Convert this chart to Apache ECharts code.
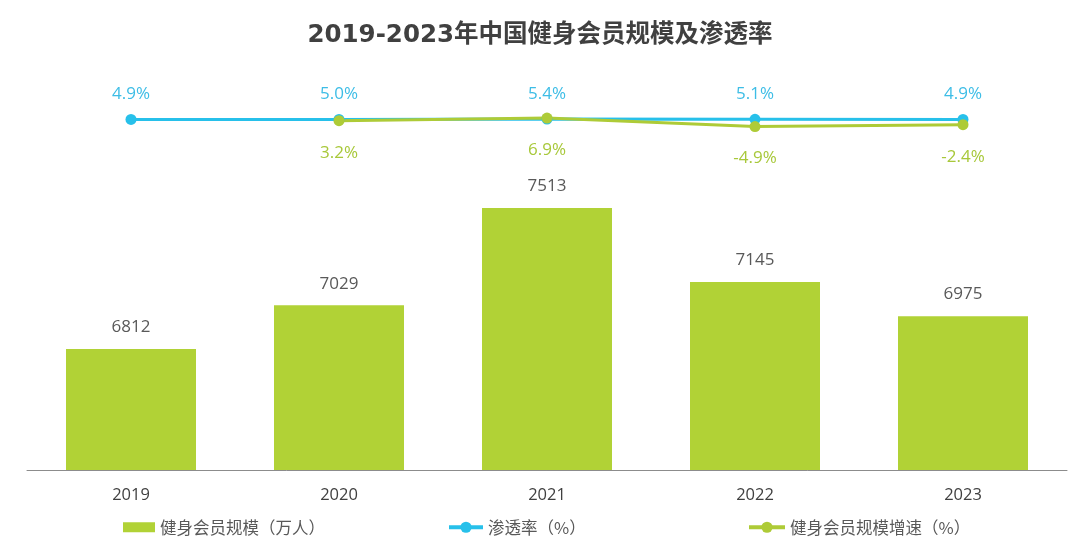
<!DOCTYPE html>
<html>
<head>
<meta charset="utf-8">
<script src="https://cdn.jsdelivr.net/npm/echarts@6/dist/echarts.min.js"></script>
<style>
html, body { margin: 0; padding: 0; background: #fff; }
#main { width: 1080px; height: 551px; }
</style>
</head>
<body>
<div id="main"></div>
<script>
var years = ['2019', '2020', '2021', '2022', '2023'];
var members = [6812, 7029, 7513, 7145, 6975];      // 健身会员规模（万人）
var penetration = [4.9, 5.0, 5.4, 5.1, 4.9];       // 渗透率（%）
var growth = [null, 3.2, 6.9, -4.9, -2.4];         // 健身会员规模增速（%）

var barName = '健身会员规模（万人）';
var blueName = '渗透率（%）';
var greenName = '健身会员规模增速（%）';

var font = '"Noto Sans CJK SC", "Open Sans", sans-serif';
var numFont = '"Open Sans", "Noto Sans CJK SC", sans-serif';

var myChart = echarts.init(document.getElementById('main'));

var legendText = { color: '#595959', fontSize: 16.5, fontFamily: font };

var option = {
    backgroundColor: '#fff',
    animation: false,
    title: {
        text: '2019-2023年中国健身会员规模及渗透率',
        left: 'center',
        top: 18,
        textStyle: { color: '#404040', fontSize: 24.5, fontWeight: 'bold', fontFamily: '"DejaVu Sans", "Noto Sans CJK SC", sans-serif' }
    },
    legend: [
        {
            left: 123, top: 519, padding: 0, itemWidth: 32, itemHeight: 10, itemGap: 4,
            data: [{ name: barName, icon: 'rect' }],
            textStyle: legendText
        },
        {
            left: 447, top: 519, padding: 0, itemWidth: 34, itemHeight: 14, itemGap: 4,
            data: [blueName],
            lineStyle: { width: 4 },
            textStyle: legendText
        },
        {
            left: 747, top: 519, padding: 0, itemWidth: 36, itemHeight: 14, itemGap: 4,
            data: [greenName],
            lineStyle: { width: 4 },
            textStyle: legendText
        }
    ],
    grid: [
        { left: 27, right: 13, top: 110, bottom: 81 },
        { left: 27, right: 13, top: 51, height: 144 }
    ],
    xAxis: [
        {
            type: 'category', gridIndex: 0, data: years,
            axisLine: { lineStyle: { color: '#8c8c8c', width: 1 } },
            axisTick: { show: false },
            axisLabel: { color: '#404040', fontSize: 16.5, margin: 17, fontFamily: numFont }
        },
        {
            type: 'category', gridIndex: 1, data: years,
            axisLine: { show: false }, axisTick: { show: false }, axisLabel: { show: false }
        }
    ],
    yAxis: [
        {
            type: 'value', gridIndex: 0, min: 6210, max: 8000,
            show: false, splitLine: { show: false }
        },
        {
            type: 'value', gridIndex: 1, min: -100, max: 100,
            show: false, splitLine: { show: false }
        }
    ],
    series: [
        {
            name: barName,
            type: 'bar',
            xAxisIndex: 0, yAxisIndex: 0,
            data: members,
            barCategoryGap: '37.5%',
            itemStyle: { color: '#b1d236' },
            label: {
                show: true, position: 'top', distance: 13,
                color: '#595959', fontSize: 17, fontFamily: numFont
            }
        },
        {
            name: blueName,
            type: 'line',
            xAxisIndex: 1, yAxisIndex: 1,
            data: penetration,
            symbol: 'circle', symbolSize: 11,
            itemStyle: { color: '#27c0ea' },
            lineStyle: { color: '#27c0ea', width: 3 },
            label: {
                show: true, position: 'top', distance: 11,
                color: '#3dbde6', fontSize: 17, fontFamily: numFont,
                formatter: function (p) { return p.value.toFixed(1) + '%'; }
            }
        },
        {
            name: greenName,
            type: 'line',
            xAxisIndex: 1, yAxisIndex: 1,
            data: growth,
            symbol: 'circle', symbolSize: 11,
            itemStyle: { color: '#aecb37' },
            lineStyle: { color: '#aecb37', width: 3 },
            label: {
                show: true, position: 'bottom', distance: 18,
                color: '#a8c83a', fontSize: 17, fontFamily: numFont,
                formatter: function (p) { return p.value.toFixed(1) + '%'; }
            }
        }
    ]
};

myChart.setOption(option);
</script>
</body>
</html>
